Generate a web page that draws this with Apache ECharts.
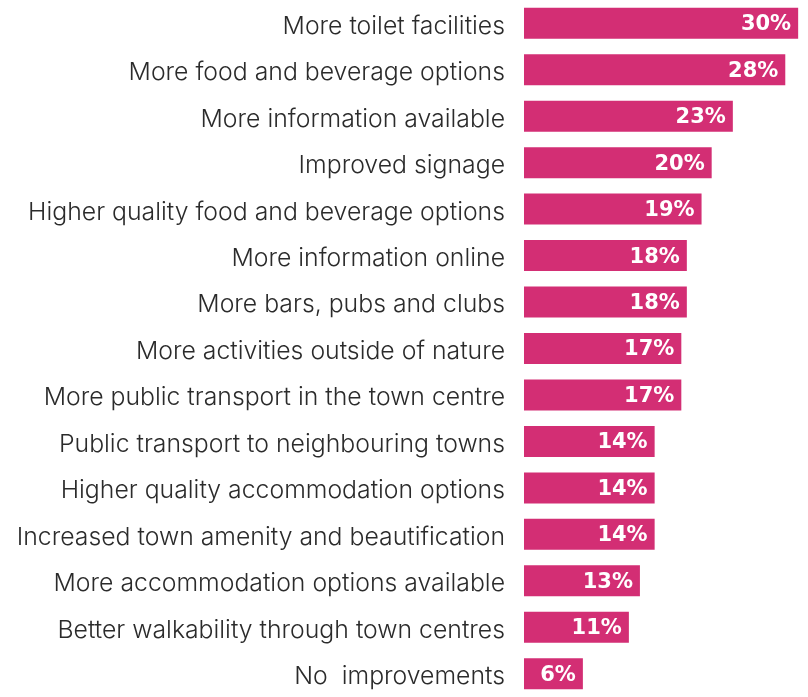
<!DOCTYPE html>
<html>
<head>
<meta charset="utf-8">
<script src="https://cdn.jsdelivr.net/npm/echarts@6/dist/echarts.min.js"></script>
<style>
    html, body { margin: 0; padding: 0; background: #fff; }
    #chartDom { width: 808px; height: 697px; }
</style>
</head>
<body>
<div id="chartDom"></div>
<script>
    // categories, top to bottom
    let categories = [
        'More toilet facilities',
        'More food and beverage options',
        'More information available',
        'Improved signage',
        'Higher quality food and beverage options',
        'More information online',
        'More bars, pubs and clubs',
        'More activities outside of nature',
        'More public transport in the town centre',
        'Public transport to neighbouring towns',
        'Higher quality accommodation options',
        'Increased town amenity and beautification',
        'More accommodation options available',
        'Better walkability through town centres',
        'No  improvements'
    ];
    // share of respondents (%)
    let shares = [29.8, 28.4, 22.7, 20.4, 19.3, 17.7, 17.7, 17.1, 17.1, 14.2, 14.2, 14.2, 12.6, 11.4, 6.4];

    window.onload = function () {
        let chart = echarts.init(document.getElementById('chartDom'));
        let option = {
            animation: false,
            grid: {
                left: 524,
                right: 8,
                top: -1.4,
                bottom: -3.4
            },
            xAxis: {
                type: 'value',
                min: 0,
                max: 30,
                show: false
            },
            yAxis: {
                type: 'category',
                inverse: true,
                data: categories,
                axisLine: { show: false },
                axisTick: { show: false },
                axisLabel: {
                    margin: 19,
                    color: '#2b2b2b',
                    fontFamily: 'Inter',
                    fontWeight: 300,
                    fontSize: 24.8,
                    // push the text a few px below the bar centre, like the original
                    verticalAlign: 'top',
                    lineHeight: 6
                }
            },
            series: [
                {
                    type: 'bar',
                    data: shares,
                    barWidth: 31,
                    itemStyle: { color: '#d32e74' },
                    label: {
                        show: true,
                        position: 'insideRight',
                        distance: 7,
                        offset: [0, 1.5],
                        color: '#fff',
                        fontFamily: 'DejaVu Sans',
                        fontWeight: 'bold',
                        fontSize: 21,
                        formatter: (p) => Math.round(p.value) + '%'
                    }
                }
            ]
        };
        chart.setOption(option);
    };
</script>
</body>
</html>
